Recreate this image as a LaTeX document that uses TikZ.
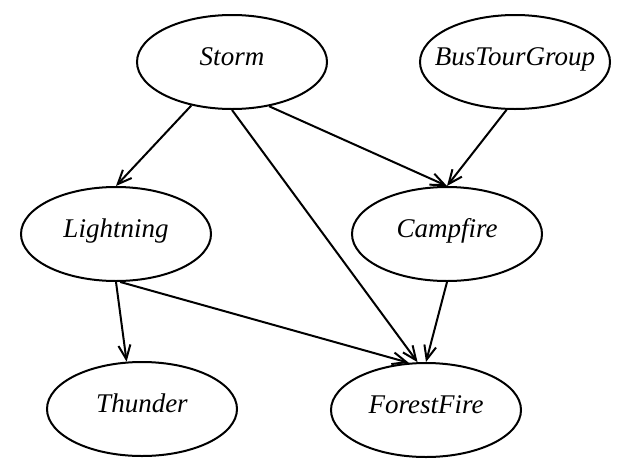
\documentclass[tikz,border=0pt]{standalone}
\usepackage{fontspec}
\setmainfont{Liberation Serif}
\usetikzlibrary{shapes.geometric,arrows.meta}
\begin{document}
\begin{tikzpicture}[x=1pt,y=-1pt,
        var/.style={draw,ellipse,line width=2pt,inner sep=0pt,
            minimum width=190pt,minimum height=94pt,
            font=\fontsize{27}{30}\selectfont\itshape,
            text height=0.7em,text depth=0pt},
        dep/.style={line width=2pt,-{Straight Barb[length=14pt,width=12pt]}}]
        \useasboundingbox (0,0) rectangle (624,472);
        %% Variables
        \node[var] (storm)  at (232,62)  {Storm};
        \node[var,inner xsep=-15pt] (bus) at (515,62) {BusTourGroup};
        \node[var] (light)  at (116,234) {Lightning};
        \node[var] (camp)   at (447,234) {Campfire};
        \node[var] (thunder) at (142,409) {Thunder};
        \node[var] (forest) at (426,410) {ForestFire};
        %% Dependencies
        \foreach \s/\t in {storm/light.north, storm.south/forest.100,
                storm.-50/camp.north, bus.-100/camp.north,
                light.south/thunder.108, light.-85/forest.110,
                camp.south/forest.north} {
            \draw[dep] (\s) -- (\t);
        }
    \end{tikzpicture}
\end{document}
